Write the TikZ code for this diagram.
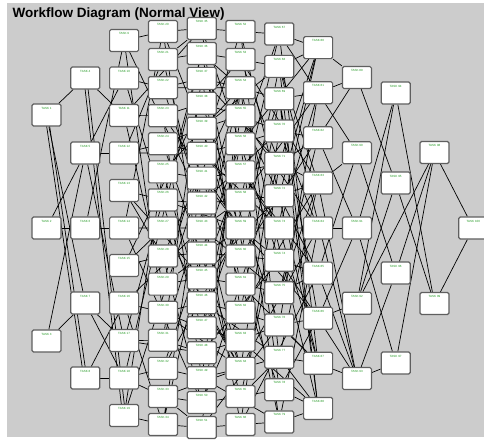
\documentclass[tikz,border=0pt]{standalone}
\usepackage{fontspec}
\setmainfont{Liberation Sans}
\usetikzlibrary{positioning}
\pgfdeclarelayer{wires}
\pgfsetlayers{wires,main}
\definecolor{panel}{RGB}{204,204,204}
\definecolor{tasktext}{RGB}{30,150,30}
\definecolor{taskrim}{RGB}{95,95,95}
\tikzset{
  task/.style={draw=taskrim, line width=1.2pt, fill=white, rounded corners=1.5pt,
    minimum width=29pt, minimum height=22pt, inner sep=0pt,
    text height=4pt, text depth=16pt, text=tasktext, font=\fontsize{3}{3.5}\selectfont},
  link/.style={black, line width=0.7pt},
}
\begin{document}
\begin{tikzpicture}[x=1pt,y=-1pt]
  \useasboundingbox (0,0) rectangle (484,440);
  \node[anchor=base west, inner sep=0pt, font=\fontsize{13.5}{16}\selectfont\bfseries] (title) at (12.5,17.3) {Workflow Diagram (Normal View)};
  % task columns: name/count/spacing/first number
  \foreach \col/\n/\sp/\first [count=\c from 0] in
    {a/3/113/0, b/5/75/3, c/11/37.5/8, d/15/28.07/19, e/17/24.94/34, f/15/28.07/51,
     g/13/32.33/66, h/9/45.1/79, i/5/75.25/88, j/4/90/93, k/2/151/97, l/1/0/99}
    \foreach \r in {1,...,\n}{
      \pgfmathtruncatemacro\num{\first+\r}
      \node[task] (\col\r) at ({46.5+38.8*\c},{228+(\r-(\n+1)/2)*\sp}) {TASK \num};
    }
  \begin{pgfonlayer}{wires}
    \fill[white] (0,0) rectangle (484,440);
    \fill[panel] (7,3) rectangle (484,437);
    % left side
    \foreach \u/\v in {a1/b1, a1/b4, a2/b2, a2/b3, a3/b2, a3/b4, b1/c3, b2/c2, b2/c4, b2/c9,
      b3/c1, b3/c6, b4/c9, b4/c10, b5/c8, b5/c10}
      \draw[link] (\u) -- (\v);
    \foreach \u/\v in {a1/b5, b1/c11}
      \draw[link] ([xshift=-1.5pt]\u.center) -- ([xshift=-1.5pt]\v.center)
                  ([xshift=1.5pt]\u.center) -- ([xshift=1.5pt]\v.center);
    % middle: one near link and two scattered ones per task
    \foreach \src/\n/\sp/\dst/\m/\dsp/\far/\mm in
      {c/11/37.5/d/15/28.07/e/17, d/15/28.07/e/17/24.94/f/15, e/17/24.94/f/15/28.07/g/13,
       f/15/28.07/g/13/32.33/h/9, g/13/32.33/h/9/45.1/h/9}
      \foreach \r in {1,...,\n}{
        \pgfmathtruncatemacro\near{round((\r-(\n+1)/2)*\sp/\dsp+(\m+1)/2)}
        \pgfmathtruncatemacro\s{1+mod(7*\r+3,\m)}
        \pgfmathtruncatemacro\t{1+mod(5*\r+2,\mm)}
        \draw[link] (\src\r) -- (\dst\near) (\src\r) -- (\dst\s) (\src\r) -- (\far\t);
      }
    % right side
    \foreach \u/\v in {h1/i1, h2/i1, h3/i1, h2/i2, h4/i2, h6/i2, h3/i3, h5/i3, h7/i3,
      h7/i4, h4/i5, h6/i5, h7/i5, h8/i5, g2/i5, i1/j2, i2/j3, i3/j1, i3/j4, i4/j1,
      i4/j2, i5/j3, i5/j4, i4/k1, j1/k2, j2/k2, j3/k1, j4/k1, k1/l1, k2/l1}
      \draw[link] (\u) -- (\v);
  \end{pgfonlayer}
\end{tikzpicture}
\end{document}
